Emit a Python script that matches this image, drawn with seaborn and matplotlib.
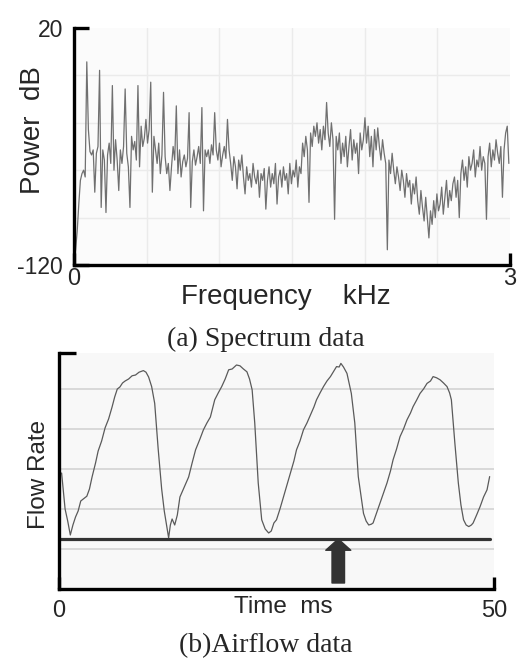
import numpy as np
import pandas as pd
import matplotlib
matplotlib.use("Agg")
import matplotlib.pyplot as plt
import seaborn as sns

# (a) spectrum: power in dB, one value every FREQ_STEP kHz starting at 0
FREQ_STEP = 0.011
power_db = [
    -118, -111, -100, -84, -70, -66, -64, -68, 0,
    -40, -53, -55, -52, -77, -54, -50, -5,
    -86, -52, -58, -89, -55, -48, -60, -14,
    -64, -46, -58, -76, -52, -60, -50, -16,
    -54, -62, -86, -44, -52, -47, -58, -14,
    -62, -38, -50, -45, -34, -48, -40, -12,
    -77, -44, -52, -60, -48, -66, -55, -18,
    -56, -66, -60, -76, -62, -50, -58, -26,
    -66, -52, -68, -59, -55, -62, -57, -30,
    -86, -59, -52, -61, -56, -50, -60, -27,
    -88, -52, -56, -52, -60, -49, -55, -30,
    -52, -58, -48, -62, -55, -50, -57, -34,
    -52, -60, -70, -56, -62, -75, -58, -64, -55, -68,
    -78, -62, -70, -66, -74, -60, -68, -72, -64, -80, -66, -70, -63, -87,
    -70, -62, -74, -66, -72, -60, -84, -68, -64, -74, -62, -70, -66, -78,
    -60, -72, -64, -68, -58, -74, -62, -66,
    -48, -56, -44, -52, -83, -42, -50, -38,
    -44, -36, -48, -40, -52, -38, -46, -24, -42, -50, -36, -46, -93, -44,
    -52, -42, -60, -48, -56, -44, -62, -50, -40, -58, -46, -54, -48, -66,
    -42, -52, -46, -33,
    -48, -38, -56, -44, -62, -40, -52, -39, -50, -58, -46, -54, -60, -111,
    -58, -66, -54, -64, -72, -62, -68, -76, -64, -70, -80, -66, -74, -70,
    -84, -72, -78, -68,
    -82, -90, -76, -86, -94, -80, -92, -104,
    -88, -96, -82, -92, -78, -88, -84, -74, -90, -80, -70, -86, -76, -82,
    -72, -68, -80, -70, -92,
    -66, -58, -70, -62, -74, -56, -64, -60, -52, -68, -58, -62, -50, -64,
    -56, -60, -93,
    -56, -48, -62, -52, -58, -46, -54, -60, -50, -80, -52, -42, -38, -60,
]
freq_ticks = [0, 3]
power_ticks = [-120, 20]

# (b) airflow
time_ms = [
    0.3, 0.7, 1.0, 1.3, 1.6, 1.9, 2.2, 2.5, 2.8, 3.2,
    3.5, 3.8, 4.2, 4.5, 4.9, 5.3, 5.7, 6.1, 6.4, 6.7,
    7.0, 7.3, 7.6, 8.0, 8.4, 8.8, 9.2, 9.7, 10.0, 10.3,
    10.65, 11.0, 11.4, 11.8, 12.1, 12.4, 12.6, 12.8, 13.0, 13.3,
    13.6, 13.9, 14.3, 14.9, 15.3, 15.7, 16.2, 16.6, 17.0, 17.4,
    17.9, 18.3, 18.7, 19.1, 19.5, 19.9, 20.4, 20.8, 21.2, 21.6,
    21.9, 22.2, 22.5, 22.9, 23.3, 23.7, 24.1, 24.4, 24.7, 25.0,
    25.4, 25.8, 26.2, 26.6, 27.0, 27.3, 27.7, 28.1, 28.5, 28.9,
    29.3, 29.6, 30.0, 30.4, 30.8, 31.2, 31.6, 31.9, 32.2, 32.4,
    32.7, 33.1, 33.6, 34.0, 34.4, 35.0, 35.3, 35.6, 35.9, 36.1,
    36.5, 36.9, 37.3, 37.7, 38.1, 38.4, 38.8, 39.2, 39.6, 40.0,
    40.4, 40.7, 41.1, 41.5, 41.9, 42.3, 42.7, 43.0, 43.4, 43.8,
    44.2, 44.6, 44.9, 45.1, 45.5, 45.9, 46.2, 46.5, 46.8, 47.1,
    47.4, 47.6, 48.0, 48.4, 48.8, 49.2, 49.5,
]
flow_rate = [
    2.9, 2.0, 1.7, 1.35, 1.6, 1.8, 1.95, 2.2, 2.25, 2.32,
    2.5, 2.8, 3.15, 3.45, 3.7, 4.03, 4.25, 4.55, 4.8, 5.0,
    5.05, 5.15, 5.2, 5.25, 5.33, 5.35, 5.42, 5.46, 5.42, 5.3,
    5.06, 4.64, 3.5, 2.5, 1.95, 1.55, 1.28, 1.6, 1.75, 1.6,
    1.85, 2.3, 2.5, 2.8, 3.15, 3.48, 3.75, 3.98, 4.15, 4.3,
    4.73, 4.9, 5.06, 5.25, 5.48, 5.5, 5.6, 5.58, 5.5, 5.43,
    5.25, 4.98, 4.15, 2.65, 1.73, 1.5, 1.4, 1.45, 1.65, 1.73,
    2.0, 2.3, 2.6, 2.9, 3.2, 3.48, 3.7, 3.98, 4.15, 4.35,
    4.55, 4.73, 4.9, 5.06, 5.2, 5.31, 5.45, 5.56, 5.55, 5.64,
    5.55, 5.39, 4.89, 4.15, 2.81, 1.89, 1.7, 1.6, 1.62, 1.65,
    1.9, 2.15, 2.4, 2.65, 2.95, 3.23, 3.5, 3.81, 4.0, 4.23,
    4.4, 4.56, 4.72, 4.89, 5.0, 5.14, 5.2, 5.31, 5.28, 5.23,
    5.15, 5.06, 4.9, 4.73, 3.65, 2.65, 2.1, 1.73, 1.6, 1.56,
    1.6, 1.65, 1.85, 2.06, 2.3, 2.48, 2.81,
]
time_ticks = [0, 50]
flow_threshold = 1.25   # thick reference line
marker_time = 32.1      # arrow position, ms

sns.set_theme(style="white")
plt.rcParams["font.family"] = ["Liberation Sans", "DejaVu Sans"]
SERIF = ["Liberation Serif", "DejaVu Serif"]

fig = plt.figure(figsize=(5.2, 6.6), dpi=100)
W, H = 520, 660
ax1 = fig.add_axes([74 / W, 1 - 265 / H, 436 / W, 237 / H])
ax2 = fig.add_axes([59 / W, 1 - 589 / H, 435 / W, 236 / H])


def style_axes(ax, top_len, right_len):
    ax.spines["top"].set_visible(False)
    ax.spines["right"].set_visible(False)
    for side in ["left", "bottom"]:
        ax.spines[side].set_linewidth(2.4)
        ax.spines[side].set_color("black")
        ax.spines[side].set_zorder(5)
    ax.tick_params(axis="y", direction="in", length=top_len, width=2.4,
                   color="black", labelsize=16.5, pad=8, left=True)
    ax.tick_params(axis="x", direction="in", length=right_len, width=2.4,
                   color="black", labelsize=17, pad=2, bottom=True)


# ---- (a) spectrum
spec = pd.DataFrame({"freq": np.arange(len(power_db)) * FREQ_STEP,
                     "power": power_db})
ax1.set_facecolor("#fbfbfb")
sns.lineplot(data=spec, x="freq", y="power", ax=ax1, color="#707070",
             lw=0.9, zorder=3)
ax1.set_xlim(0, 3)
ax1.set_ylim(-120, 20)
for f in np.arange(0.5, 3.0, 0.5):
    ax1.axvline(f, color="#ebebeb", lw=1, zorder=1)
for p in np.arange(-92, 20, 28):
    ax1.axhline(p, color="#ebebeb", lw=1, zorder=1)
ax1.set_xticks(freq_ticks, ["0", "3"])
ax1.set_yticks(power_ticks, ["-120", "20"])
style_axes(ax1, 11, 9)
ax1.set_xlabel("Frequency    kHz", fontsize=20, va="baseline")
ax1.xaxis.set_label_coords(0.486, -0.165)
ax1.set_ylabel("Power  dB", fontsize=20, va="center")
ax1.yaxis.set_label_coords(-0.094, 0.57)

# ---- (b) airflow
flow = pd.DataFrame({"time": time_ms, "flow": flow_rate})
ax2.set_facecolor("#f8f8f8")
ax2.set_xlim(0, 50)
ax2.set_ylim(0, 5.9)
for g in [1, 2, 3, 4, 5]:
    ax2.axhline(g, color="#d9d9d9", lw=1.4, zorder=1)
sns.lineplot(data=flow, x="time", y="flow", ax=ax2, color="#5a5a5a",
             lw=0.9, zorder=3)
ax2.axhline(flow_threshold, xmax=0.99, color="#333333", lw=2.3, zorder=4)
ax2.annotate("", xy=(marker_time, flow_threshold), xytext=(marker_time, 0.15),
             arrowprops=dict(arrowstyle="simple,head_length=0.45,head_width=1.0,tail_width=0.5",
                             color="#333333", mutation_scale=18,
                             shrinkA=0, shrinkB=0), zorder=4)
ax2.set_xticks(time_ticks, ["0", "50"])
ax2.set_yticks([5.9], [""])
style_axes(ax2, 12, 9)
ax2.tick_params(axis="x", pad=8)
ax2.set_xlabel("Time  ms", fontsize=17.5, va="baseline")
ax2.xaxis.set_label_coords(0.515, -0.102)
ax2.set_ylabel("Flow Rate", fontsize=17.5, va="center")
ax2.yaxis.set_label_coords(-0.046, 0.487)

fig.text(266 / W, 1 - 346 / H, "(a) Spectrum data", family=SERIF,
         fontsize=20, ha="center", va="baseline")
fig.text(266 / W, 1 - 652 / H, "(b)Airflow data", family=SERIF,
         fontsize=20, ha="center", va="baseline")

fig.savefig("out.png", dpi=100, facecolor="white")
